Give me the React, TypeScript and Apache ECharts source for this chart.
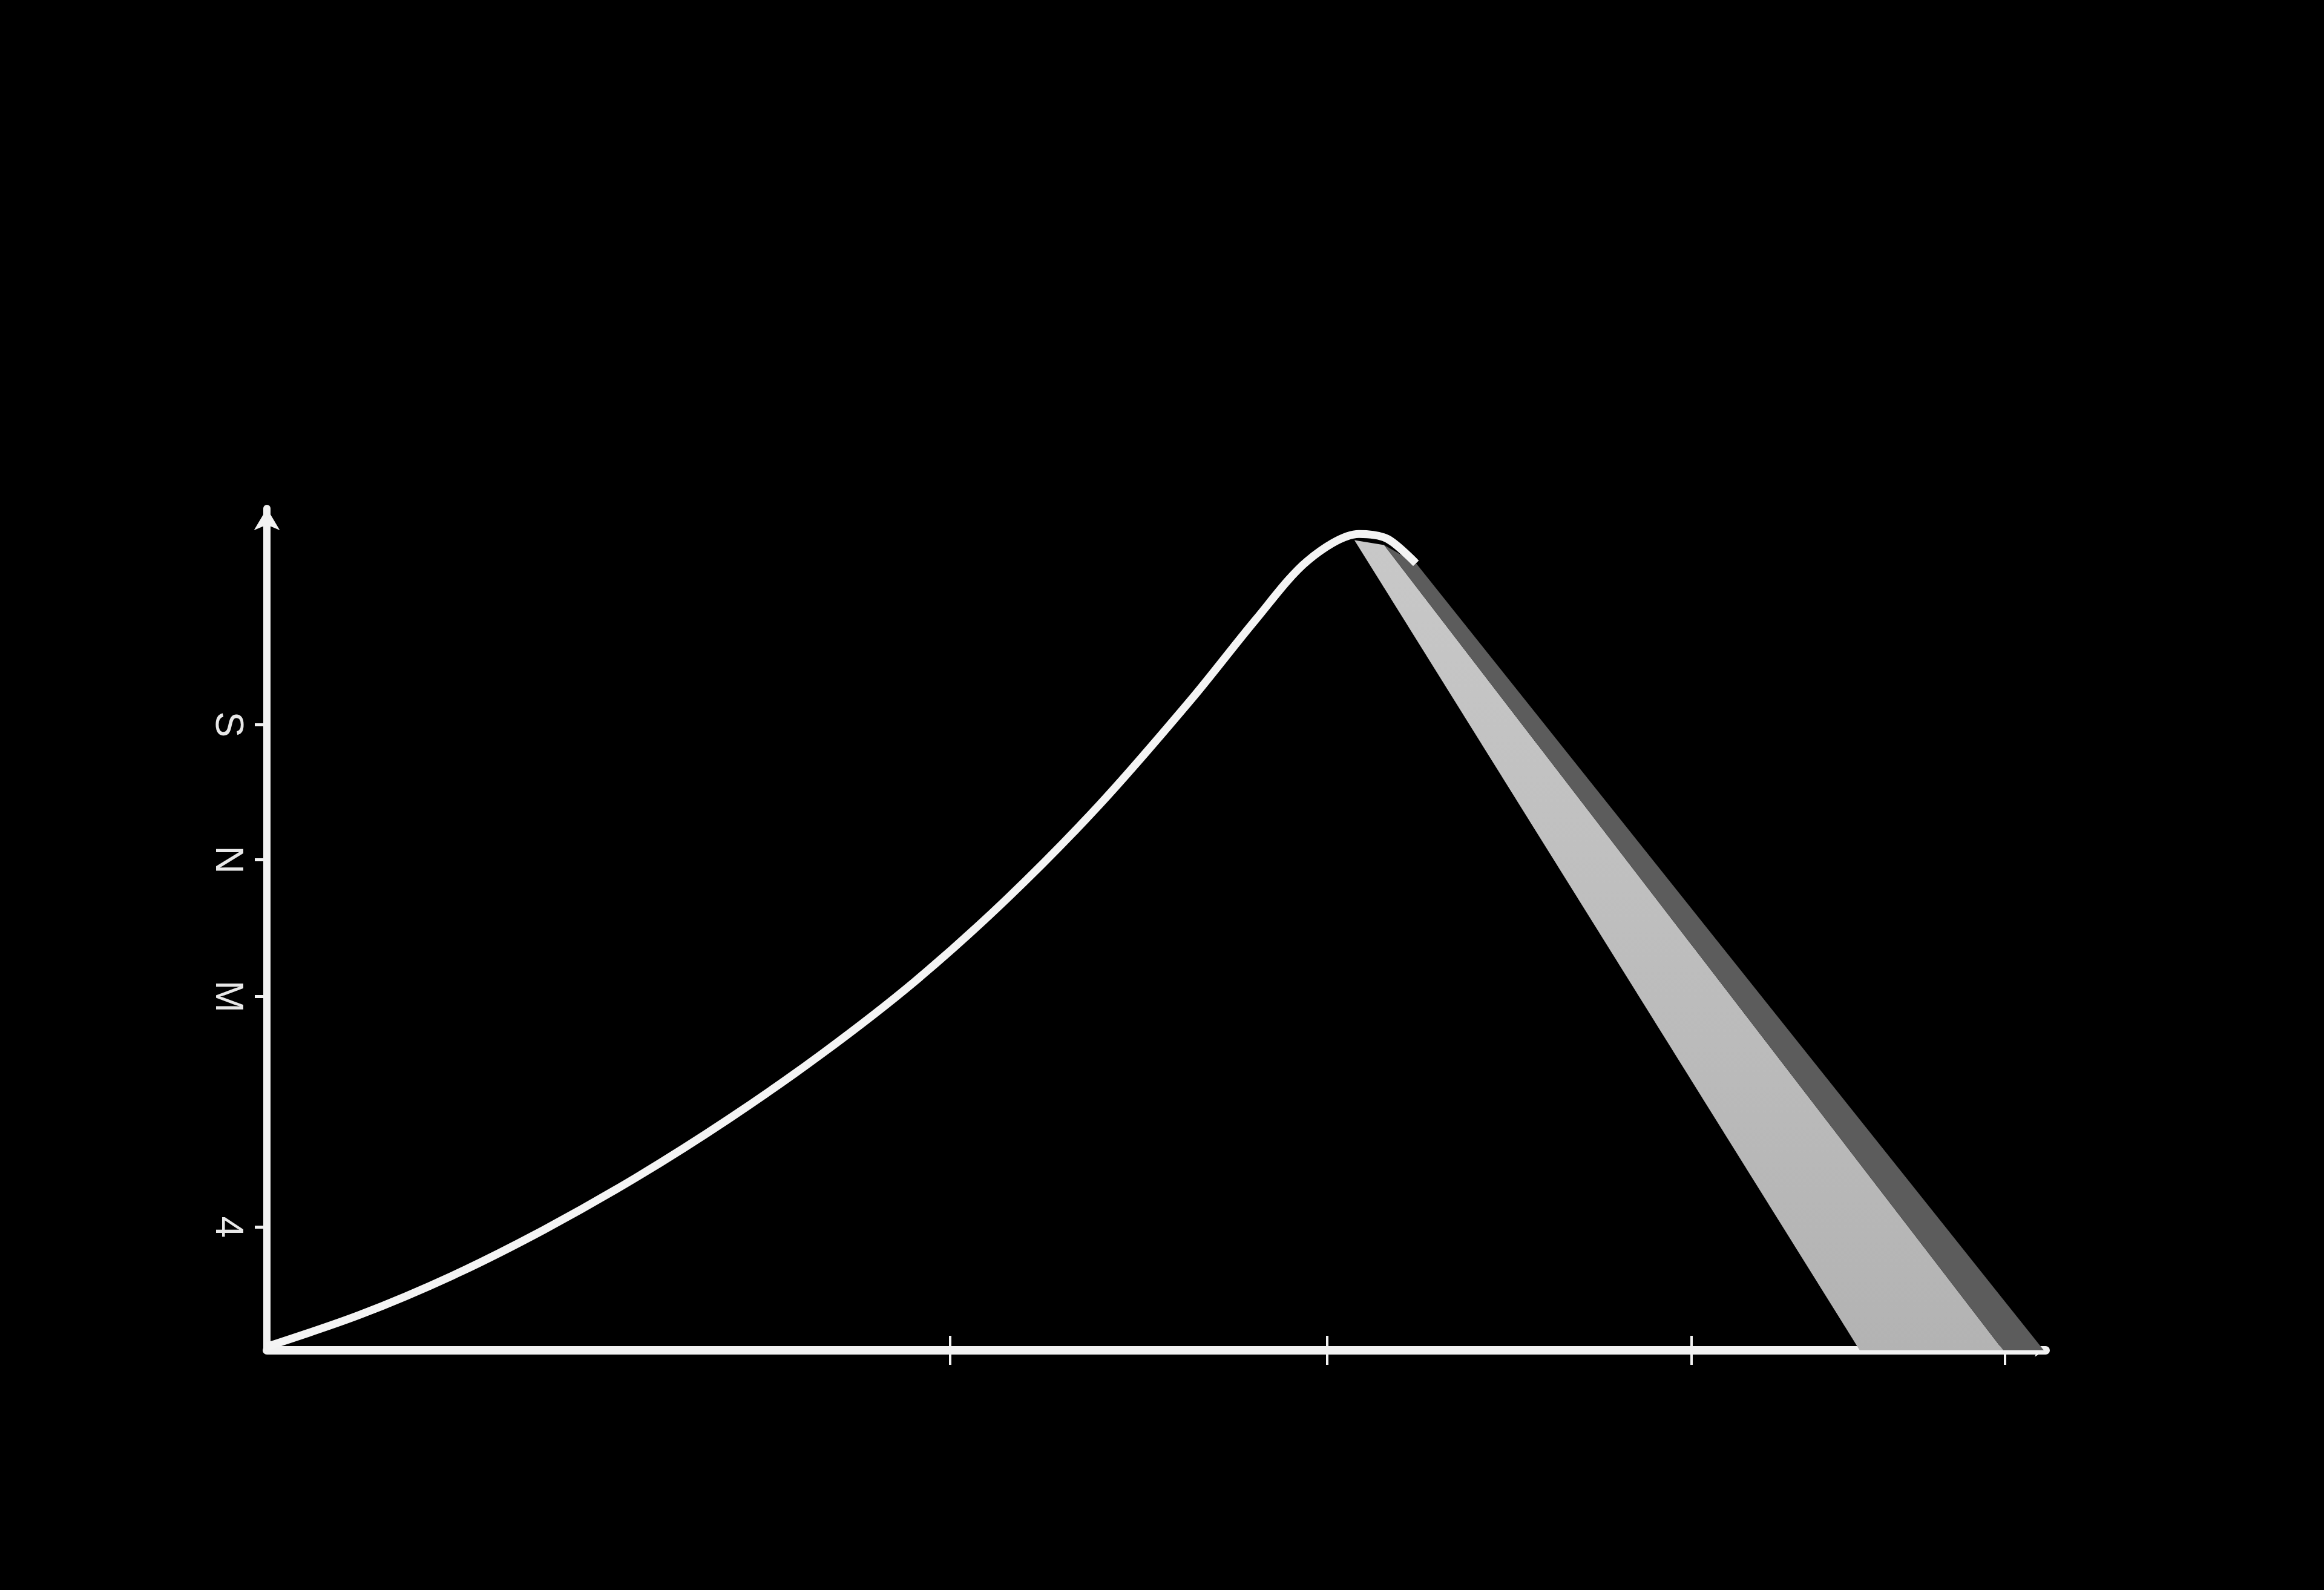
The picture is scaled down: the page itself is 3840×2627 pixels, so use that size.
import { useEffect, useRef } from 'react';
import * as echarts from 'echarts';

// curve (x in axis units 0..10, y in 0..6.9)
const curveX = [0, 0.52, 1.04, 1.56, 2.08, 2.6, 3.12, 3.64, 4.16, 4.68, 5.2, 5.56, 5.85, 6.14, 6.3, 6.46];
const curveY = [0.03, 0.29, 0.61, 0.99, 1.42, 1.9, 2.43, 3.02, 3.7, 4.47, 5.34, 5.99, 6.47, 6.69, 6.65, 6.45];

const xTicks = [3.84, 5.96, 8.01, 9.77];
const yTicks = [5.13, 4.02, 2.9, 1.01];
const yTickLabels = ['S', 'N', 'M', '4'];

// shaded band under the falling side
const lightBandX = [6.114, 6.281, 9.762, 8.955];
const lightBandY = [6.64, 6.6, 0, 0];
const darkBandX = [6.281, 6.461, 9.99, 9.762];
const darkBandY = [6.6, 6.45, 0, 0];

const X_MAX = 10;
const Y_MAX = 6.9;

function bandSeries(xs: number[], ys: number[], fill: any) {
  return {
    type: 'custom',
    silent: true,
    z: 2,
    data: [[xs[0], ys[0]]],
    renderItem: (_params: any, api: any) => ({
      type: 'polygon',
      shape: { points: xs.map((x, i) => api.coord([x, ys[i]])) },
      style: { fill },
    }),
  };
}

export default function App() {
  const ref = useRef<HTMLDivElement>(null);

  useEffect(() => {
    if (!ref.current) return;
    const chart = echarts.init(ref.current, null, { renderer: 'svg' });
    const axisColor = '#f2f2f2';
    chart.setOption({
      animation: false,
      backgroundColor: '#000000',
      grid: { left: 441, right: 460, top: 840, bottom: 396 },
      xAxis: [
        {
          type: 'value',
          min: 0,
          max: X_MAX,
          position: 'bottom',
          splitLine: { show: false },
          axisLine: {
            show: true,
            symbol: ['none', 'arrow'],
            symbolSize: [16, 18],
            lineStyle: { color: axisColor, width: 14 },
          },
          axisTick: {
            show: true,
            customValues: xTicks,
            length: 24,
            lineStyle: { color: axisColor, width: 4 },
          },
          axisLabel: { show: false },
        },
        {
          type: 'value',
          min: 0,
          max: X_MAX,
          position: 'bottom',
          splitLine: { show: false },
          axisLine: { show: false },
          axisTick: {
            show: true,
            inside: true,
            customValues: xTicks,
            length: 24,
            lineStyle: { color: axisColor, width: 4 },
          },
          axisLabel: { show: false },
        },
      ],
      yAxis: {
        type: 'value',
        min: 0,
        max: Y_MAX,
        splitLine: { show: false },
        axisLine: {
          show: true,
          symbol: ['none', 'arrow'],
          symbolSize: [32, 36],
          lineStyle: { color: axisColor, width: 12 },
        },
        axisTick: {
          show: true,
          customValues: yTicks,
          length: 20,
          lineStyle: { color: axisColor, width: 5 },
        },
        axisLabel: {
          show: true,
          customValues: yTicks,
          rotate: -90,
          margin: 30,
          color: '#e8e8e8',
          fontSize: 64,
          fontFamily: 'Liberation Sans',
          formatter: (v: number) => {
            const i = yTicks.findIndex((t) => Math.abs(t - v) < 1e-6);
            return i >= 0 ? yTickLabels[i] : '';
          },
        },
      },
      series: [
        bandSeries(
          lightBandX,
          lightBandY,
          new echarts.graphic.LinearGradient(0, 0, 0, 1, [
            { offset: 0, color: '#c8c8c8' },
            { offset: 1, color: '#b3b3b3' },
          ])
        ),
        bandSeries(darkBandX, darkBandY, '#5c5c5c'),
        {
          type: 'line',
          z: 3,
          data: curveX.map((x, i) => [x, curveY[i]]),
          smooth: 0.3,
          showSymbol: false,
          lineStyle: { color: '#f4f4f4', width: 13, cap: 'butt' },
        },
      ],
    });
    return () => chart.dispose();
  }, []);

  return (
    <div
      ref={ref}
      style={{ position: 'fixed', left: 0, top: 0, width: 3840, height: 2627, background: '#000' }}
    />
  );
}
